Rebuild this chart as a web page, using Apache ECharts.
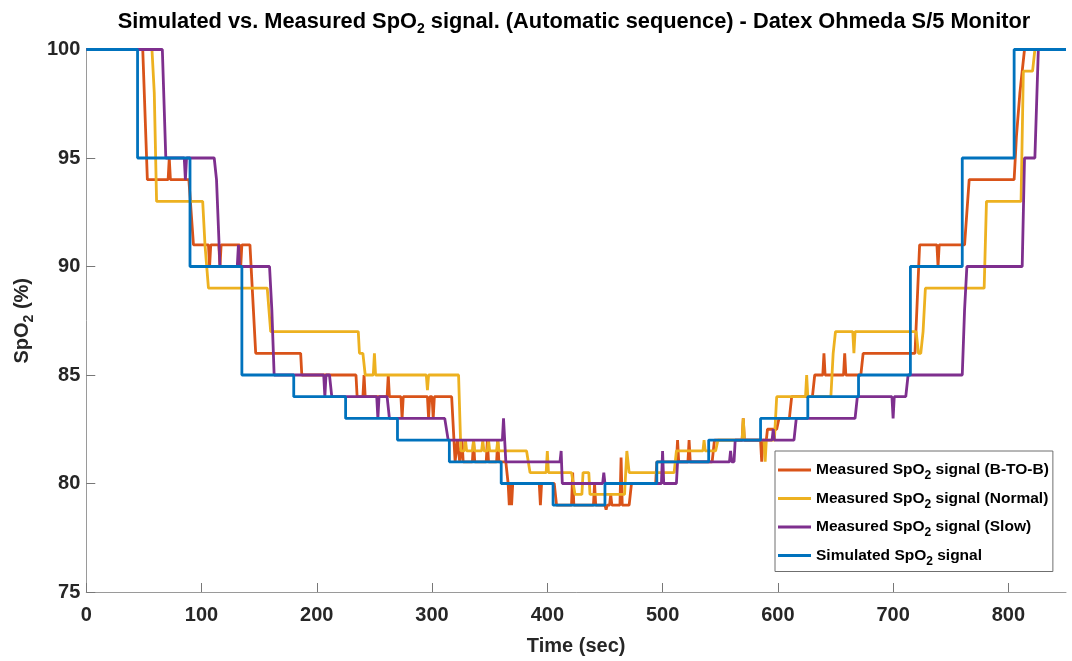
<!DOCTYPE html>
<html>
<head>
<meta charset="utf-8">
<script src="https://cdn.jsdelivr.net/npm/echarts@6/dist/echarts.min.js"></script>
<style>
html,body{margin:0;padding:0;background:#fff;}
#chart{width:1072px;height:661px;}
</style>
</head>
<body>
<div id="chart"></div>
<script>
// ---- DATA (time in sec, SpO2 in %) ----
const SERIES_NAMES = [
  'Measured SpO2 signal (B-TO-B)',
  'Measured SpO2 signal (Normal)',
  'Measured SpO2 signal (Slow)',
  'Simulated SpO2 signal'
];
const X_TICKS = [0, 100, 200, 300, 400, 500, 600, 700, 800];
const Y_TICKS = [75, 80, 85, 90, 95, 100];

const BTOB = [
[0,100],[49,100],[53,94],[71,94],[72,95],[73,94],[89,94],[93,91],[106,91],[107,90],[108,91],[115,91],[116,90],[117,91],[133,91],[134,90],[135,91],[142,91],[145,88],[147,86],[186,86],[187,85],[234,85],[235,84],[240,84],[241,85],[242,84],[261,84],[262,85],[263,84],[273,84],[274,83],[275,84],[296,84],[297,83],[298,84],[300,84],[301,83],[302,84],[317,84],[320,81],[322,82],[324,81],[326,82],[327,81],[335,81],[336,82],[337,81],[347,81],[348,82],[349,81],[356,81],[357,82],[358,81],[364,81],[366,80],[367,79],[368,80],[369,79],[370,80],[393,80],[394,79],[395,80],[406,80],[408,79],[421,79],[422,80.5],[423,79],[440,79],[441,80],[442,79],[450,79],[451,78.8],[452,79],[454,79],[455,79.5],[456,79],[463,79],[464,81.2],[465,79],[471,79],[473,80],[494,80],[495,81],[512,81],[513,82],[514,81],[522,81],[523,82],[524,81],[543,81],[545,82],[569,82],[570,83],[571,82],[585,82],[586,81],[587,82],[590,82],[591,82.5],[599,82.5],[601,83],[610,83],[612,84],[630,84],[632,85],[639,85],[640,86],[641,85],[657,85],[658,86],[659,85],[672,85],[674,86],[719,86],[723,91],[738,91],[739,90],[740,91],[762,91],[766,94],[805,94],[807,96],[810,98],[814,100],[850,100]
];
const NORMAL = [
[0,100],[57,100],[59,98],[61,93],[101,93],[103,91],[106,89],[157,89],[160,87],[236,87],[237,86],[240,86],[242,85],[249,85],[250,86],[251,85],[295,85],[296,84.3],[297,85],[323,85],[325,81.5],[328,81.5],[329,82],[330,81.5],[335,81.5],[336,82],[337,81.5],[343,81.5],[344,82],[345,81.5],[348,81.5],[349,82],[350,81.5],[356,81.5],[357,82],[358,81.5],[382,81.5],[385,80.5],[399,80.5],[400,81.5],[401,80.5],[421,80.5],[424,79.5],[430,79.5],[431,80.5],[436,80.5],[437,79.5],[467,79.5],[469,81.5],[471,80.5],[510,80.5],[512,81.5],[535,81.5],[536,82],[537,81.5],[546,81.5],[548,82],[569,82],[570,83],[571,82],[588,82],[589,81],[590,82],[597,82],[599,84],[624,84],[625,85],[626,84],[646,84],[648,86],[650,87],[665,87],[666,86],[667,87],[720,87],[722,86],[724,86],[726,87],[728,89],[779,89],[781,93],[811,93],[813,99],[821,99],[823,100],[850,100]
];
const SLOW = [
[0,100],[66,100],[69,95],[85,95],[86,94],[87,95],[111,95],[113,94],[116,90],[131,90],[132,91],[133,90],[159,90],[161,88],[163,85],[206,85],[207,84],[208,85],[211,85],[213,84],[252,84],[253,83],[254,84],[261,84],[263,83],[311,83],[314,82],[361,82],[362,83],[364,81],[411,81],[412,81.5],[413,80],[448,80],[449,80.5],[450,80],[499,80],[500,81.5],[501,80],[512,80],[513,81],[558,81],[559,81.5],[560,81],[562,81],[563,82],[595,82],[596,82.5],[597,82],[614,82],[616,83],[667,83],[669,84],[699,84],[700,83],[701,84],[711,84],[713,85],[760,85],[762,88],[764,90],[812,90],[814,95],[823,95],[826,100],[850,100]
];
const SIMULATED = [
[0,100],[44.5,100],[44.5,95],[90,95],[90,90],[135,90],[135,85],[180,85],[180,84],[225,84],[225,83],[270,83],[270,82],[315,82],[315,81],[360,81],[360,80],[405,80],[405,79],[450,79],[450,80],[495,80],[495,81],[540,81],[540,82],[585,82],[585,83],[626,83],[626,84],[670,84],[670,85],[715,85],[715,90],[760,90],[760,95],[805,95],[805,100],[850,100]
];
const COLORS = ['#D95319', '#EDB120', '#7E2F8E', '#0072BD'];

// ---- CHART ----
const FONT = "'Liberation Sans', Arial, sans-serif";
function sub(s) { return s.replace('SpO2', 'SpO{s|2}'); }

const chart = echarts.init(document.getElementById('chart'), null, {renderer: 'canvas'});
const datasets = [BTOB, NORMAL, SLOW, SIMULATED];

const option = {
  animation: false,
  backgroundColor: '#fff',
  title: {
    text: sub('Simulated vs. Measured SpO2 signal. (Automatic sequence) - Datex Ohmeda S/5 Monitor'),
    left: 569, top: 6, textAlign: 'center',
    textStyle: {
      fontFamily: FONT, fontSize: 21.8, fontWeight: 'bold', color: '#000', lineHeight: 22,
      rich: { s: { fontFamily: FONT, fontSize: 14, fontWeight: 'bold', color: '#000', lineHeight: 14, padding: [15, 0, 0, 0] } }
    }
  },
  grid: { left: 85, right: 6, top: 49.5, bottom: 68, containLabel: false },
  legend: {
    orient: 'vertical', left: 775, top: 451,
    padding: [7, 4, 4, 3], itemGap: 4.5,
    itemWidth: 33, itemHeight: 3, icon: 'rect',
    borderColor: '#6f6f6f', borderWidth: 1, backgroundColor: '#fff',
    formatter: n => sub(n),
    textStyle: {
      fontFamily: FONT, fontSize: 15.5, fontWeight: 'bold', color: '#000', lineHeight: 18,
      rich: { s: { fontFamily: FONT, fontSize: 12, fontWeight: 'bold', color: '#000', lineHeight: 12, padding: [12, 0, 0, 0] } }
    },
    data: SERIES_NAMES
  },
  xAxis: {
    type: 'value', min: 0, max: 850, interval: 100,
    name: 'Time (sec)', nameLocation: 'middle', nameGap: 44,
    nameTextStyle: { fontFamily: FONT, fontSize: 20, fontWeight: 'bold', color: '#262626' },
    axisLine: { show: true, lineStyle: { color: '#9a9a9a', width: 1 } },
    axisTick: { show: true, inside: true, length: 9, lineStyle: { color: '#777' }, customValues: X_TICKS },
    axisLabel: { fontFamily: FONT, fontSize: 20, fontWeight: 'bold', color: '#262626', margin: 13, customValues: X_TICKS },
    splitLine: { show: false }
  },
  yAxis: {
    type: 'value', min: 75, max: 100, interval: 5,
    name: sub('SpO2 (%)'), nameLocation: 'middle', nameGap: 46, nameRotate: 90,
    nameTextStyle: {
      fontFamily: FONT, fontSize: 20, fontWeight: 'bold', color: '#262626', lineHeight: 22,
      rich: { s: { fontFamily: FONT, fontSize: 14, fontWeight: 'bold', color: '#262626', lineHeight: 14, padding: [14, 0, 0, 0] } }
    },
    axisLine: { show: true, lineStyle: { color: '#9a9a9a', width: 1 } },
    axisTick: { show: true, inside: true, length: 9, lineStyle: { color: '#777' }, customValues: Y_TICKS },
    axisLabel: { fontFamily: FONT, fontSize: 20, fontWeight: 'bold', color: '#262626', margin: 6, customValues: Y_TICKS },
    splitLine: { show: false }
  },
  series: datasets.map((d, i) => ({
    name: SERIES_NAMES[i],
    type: 'line',
    data: d,
    showSymbol: false,
    symbol: 'none',
    color: COLORS[i],
    lineStyle: { color: COLORS[i], width: 2.8 },
    z: 2 + i,
    clip: true
  }))
};
chart.setOption(option);
</script>
</body>
</html>
